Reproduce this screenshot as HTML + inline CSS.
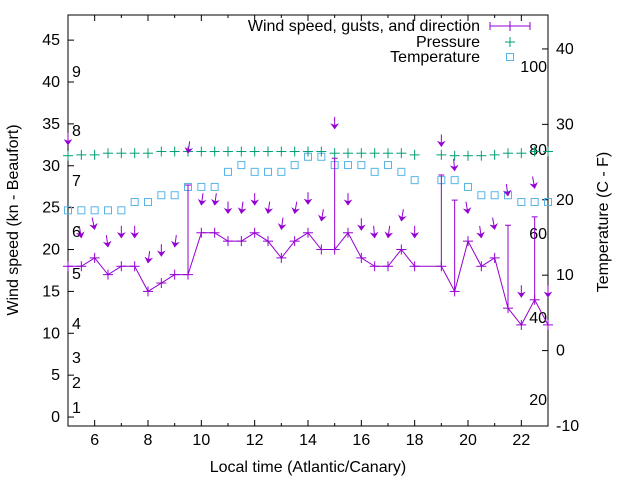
<!DOCTYPE html>
<html><head><meta charset="utf-8"><style>
body{margin:0;background:#fff}
svg{font-family:"Liberation Sans",sans-serif}
</style></head><body>
<svg id="c" width="640" height="480" viewBox="0 0 640 480" xmlns="http://www.w3.org/2000/svg"></svg>
<script>
const times=[5,5.5,6,6.5,7,7.5,8,8.5,9,9.5,10,10.5,11,11.5,12,12.5,13,13.5,14,14.5,15,15.5,16,16.5,17,17.5,18,19,19.5,20,20.5,21,21.5,22,22.5,23];
const speed=[18,18,19,17,18,18,15,16,17,17,22,22,21,21,22,21,19,21,22,20,20,22,19,18,18,20,18,18,15,21,18,19,13,11,14,11];
const gust=[null,null,null,null,null,null,null,null,null,27.7,null,null,null,null,null,null,null,null,null,null,30.9,null,null,null,null,null,null,28.9,25.9,null,null,null,22.9,null,23.9,null];
const arrowPos=[32.5,21.4,22.4,20.3,21.4,21.4,18.4,19.2,20.3,31.5,25.3,25.3,24.3,24.3,25.3,24.3,22.4,24.3,25.4,23.4,34.4,25.3,22.3,21.4,21.4,23.4,21.4,32.3,29.4,24.3,21.4,22.4,26.4,14.3,27.3,14.3];
const arrowTilt=[0,-10,-12,-8,0,0,8,0,8,8,8,8,0,8,0,8,8,10,0,10,0,0,0,-5,8,10,0,0,-5,-10,-8,-10,-8,0,-10,0];
const pressure=[31.2,31.3,31.3,31.5,31.5,31.5,31.5,31.7,31.7,31.7,31.7,31.7,31.7,31.7,31.7,31.7,31.7,31.7,31.7,31.7,31.5,31.5,31.5,31.5,31.5,31.5,31.3,31.3,31.2,31.2,31.2,31.3,31.5,31.5,31.7,31.7];
const tempTimes=[5,5.5,6,6.5,7,7.5,8,8.5,9,9.5,10,10.5,11,11.5,12,12.5,13,13.5,14,14.5,15,15.5,16,16.5,17,17.5,18,19,19.5,20,20.5,21,21.5,22,22.5,23];
const temp=[18.6,18.6,18.6,18.6,18.6,19.7,19.7,20.6,20.6,21.7,21.7,21.7,23.7,24.6,23.7,23.7,23.7,24.6,25.7,25.7,24.6,24.6,24.6,23.7,24.6,23.7,22.6,22.6,22.6,21.7,20.6,20.6,20.6,19.7,19.7,19.7];
const leftTicks=[0,5,10,15,20,25,30,35,40,45];
const rightTicks=[-10,0,10,20,30,40];
const xTicks=[6,8,10,12,14,16,18,20,22];
const beaufort=[["1",408],["2",383],["3",358],["4",324],["5",274],["6",232],["7",181],["8",131],["9",72]];
const fahr=[["20",400],["40",318],["60",234],["80",150],["100",67]];

const L=68,R=548,T=15,B=426;
const FS=16;
const X=t=>L+(t-5)/(23-5)*(R-L);
const Y=v=>B-(v+1.07)/(48+1.07)*(B-T);
const Y2=v=>B-(v+10)/(54.5)*(B-T);
const svg=document.getElementById('c');
const NS='http://www.w3.org/2000/svg';
function mk(tag,attrs,parent){const e=document.createElementNS(NS,tag);for(const k in attrs)e.setAttribute(k,attrs[k]);(parent||svg).appendChild(e);return e;}

let fr=mk('rect',{x:L,y:T,width:R-L,height:B-T,fill:'none',stroke:'#000','stroke-width':1});


const axg=mk('g',{});


leftTicks.forEach(v=>{const y=Y(v);mk('line',{x1:L,x2:L+6,y1:y,y2:y,stroke:'#000'},axg);
 let t=mk('text',{x:L-8,y:y+5,'text-anchor':'end','font-size':FS},axg);t.textContent=v;
 });
rightTicks.forEach(v=>{const y=Y2(v);mk('line',{x1:R-6,x2:R,y1:y,y2:y,stroke:'#000'},axg);
 let t=mk('text',{x:R+8,y:y+5,'text-anchor':'start','font-size':FS},axg);t.textContent=v;
 });
for(let h=5;h<=23;h++){const x=X(h);const len=(h%2==0)?6:3;
 mk('line',{x1:x,x2:x,y1:B,y2:B-len,stroke:'#000'},axg);mk('line',{x1:x,x2:x,y1:T,y2:T+len,stroke:'#000'},axg);}
xTicks.forEach(v=>{let t=mk('text',{x:X(v),y:B+19,'text-anchor':'middle','font-size':FS},axg);t.textContent=v;
 });
beaufort.forEach(([s,y])=>{let t=mk('text',{x:72,y:y+5,'font-size':FS},axg);t.textContent=s;
 });
fahr.forEach(([s,y])=>{let t=mk('text',{x:547,y:y+5,'text-anchor':'end','font-size':FS},axg);t.textContent=s;
 });
let xt=mk('text',{x:308,y:472,'text-anchor':'middle','font-size':FS});xt.textContent='Local time (Atlantic/Canary)';

let yt=mk('text',{x:18,y:220,'text-anchor':'middle','font-size':FS,transform:'rotate(-90 18 220)'});yt.textContent='Wind speed (kn - Beaufort)';

let y2t=mk('text',{x:608,y:222,'text-anchor':'middle','font-size':FS,transform:'rotate(-90 608 222)'});y2t.textContent='Temperature (C - F)';


const W='#9400d3',G='#009e73',C='#56b4e9';
function plus(x,y,col,g){mk('line',{x1:x-5,x2:x+5,y1:y,y2:y,stroke:col},g);mk('line',{x1:x,x2:x,y1:y-5,y2:y+5,stroke:col},g);}
const tg=mk('g',{});
temp.forEach((v,i)=>{let r=mk('rect',{x:X(tempTimes[i])-3.5,y:Y2(v)-3.5,width:7,height:7,fill:'none',stroke:C},tg);
 });
const pg=mk('g',{});
pressure.forEach((v,i)=>plus(X(times[i]),Y(v),G,pg));
const wg=mk('g',{});
let pts=speed.map((v,i)=>X(times[i])+','+Y(v)).join(' ');
let pl=mk('polyline',{points:pts,fill:'none',stroke:W,'stroke-width':1},wg);

speed.forEach((v,i)=>{plus(X(times[i]),Y(v),W,wg);
 if(gust[i]!=null){let l=mk('line',{x1:X(times[i]),x2:X(times[i]),y1:Y(v),y2:Y(gust[i]),stroke:W},wg);
  
  mk('line',{x1:X(times[i])-3,x2:X(times[i])+3,y1:Y(gust[i]),y2:Y(gust[i]),stroke:W},wg);}});
const ag=mk('g',{});
arrowPos.forEach((v,i)=>{const x=X(times[i]),y=Y(v);
 const g=mk('g',{transform:`translate(${x},${y}) rotate(${arrowTilt[i]})`},ag);
 
 mk('line',{x1:0,y1:-12,x2:0,y2:0,stroke:W,'stroke-width':1},g);
 mk('path',{d:'M-3.5,-5 L0,0 L3.5,-5 L0,-3.5 Z',fill:W,stroke:W,'stroke-width':0.6},g);});
const lg=mk('g',{});
[['Wind speed, gusts, and direction',26],['Pressure',42],['Temperature',57]].forEach(([s,y])=>{
 let t=mk('text',{x:480,y:y+5,'text-anchor':'end','font-size':FS},lg);t.textContent=s;
 });
mk('line',{x1:490,x2:530,y1:26,y2:26,stroke:W},lg);
mk('line',{x1:490,x2:490,y1:22,y2:30,stroke:W},lg);mk('line',{x1:530,x2:530,y1:22,y2:30,stroke:W},lg);
plus(510,26,W,lg);plus(510,42,G,lg);
mk('rect',{x:506.5,y:53.5,width:7,height:7,fill:'none',stroke:C},lg);
</script>
</body></html>
